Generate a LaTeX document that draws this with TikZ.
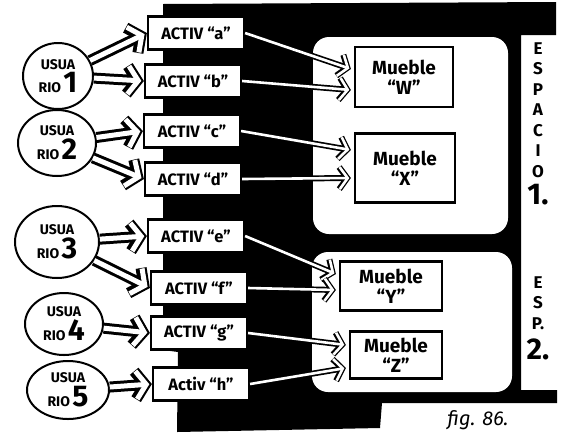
\documentclass[tikz,border=0pt]{standalone}
\usepackage{fontspec}
\setmainfont{Fira Sans}
\usetikzlibrary{arrows.meta,positioning,calc,shapes.geometric}
\tikzset{
  usr/.style={ellipse, draw=black, line width=2pt, fill=white, inner sep=0pt,
    minimum width=78pt, minimum height=66pt, align=center,
    font=\bfseries\fontsize{14}{15}\selectfont},
  actv/.style={draw=black, line width=2.2pt, fill=white, inner sep=2pt,
    minimum width=96pt, minimum height=33pt,
    font=\bfseries\fontsize{16.5}{17}\selectfont},
  mueb/.style={draw=black, line width=2.2pt, fill=white, inner sep=2pt,
    align=center, font=\bfseries\fontsize{19}{20}\selectfont},
  zona/.style={fill=white, rounded corners=16pt},
  rotulo/.style={align=center, font=\bfseries\fontsize{17}{20.5}\selectfont},
  % hollow arrows: a white stroke over a wider black one
  uflow/.style={draw=white, line width=5pt, shorten >=2.6pt,
    -{Straight Barb[length=10pt, width=28pt]},
    preaction={draw=black, line width=11pt, shorten >=0pt,
      -{Straight Barb[length=10pt, width=28pt]}}},
  mflow/.style={draw=white, line width=2.6pt, shorten >=1.6pt,
    -{Straight Barb[length=8pt, width=22pt]},
    preaction={draw=black, line width=6pt, shorten >=0pt,
      -{Straight Barb[length=8pt, width=22pt]}}}
}
\newcommand{\bignum}[1]{{\fontsize{30}{30}\selectfont #1}}

\begin{document}
\begin{tikzpicture}[x=1pt, y=-1pt]
  \useasboundingbox (0,0) rectangle (561,437);
  % black ground behind the activities and spaces
  \fill[black] (163,4) -- (556,2) -- (556,35) -- (521,35) -- (521,390)
    -- (557,390) -- (557,403) -- (382,403) -- (380,428) -- (177,432)
    -- (178,352) -- (163,350) -- cycle;
  \fill[zona] (313,37) rectangle (508,234);
  \fill[zona] (312,252) rectangle (512,392);

  % users
  \node[usr, minimum width=70pt] (u1) at (58,76) {USUA\\[2pt]RIO\,\bignum{1}};
  \node[usr] (u2) at (57,143) {USUA\\[2pt]RIO\,\bignum{2}};
  \node[usr, minimum width=84pt, minimum height=72pt] (u3) at (57,242) {USUA\\[2pt]RIO\,\bignum{3}};
  \node[usr, minimum height=62pt] (u4) at (64,324) {USUA\\[2pt]RIO\,\bignum{4}};
  \node[usr, minimum width=82pt, minimum height=58pt] (u5) at (68,390) {USUA\\[2pt]RIO\,\bignum{5}};

  % activities
  \node[actv] (aa) at (196,33) {ACTIV ``a''};
  \node[actv] (ab) at (193,81) {ACTIV ``b''};
  \node[actv] (ac) at (192,131) {ACTIV ``c''};
  \node[actv] (ad) at (193,179) {ACTIV ``d''};
  \node[actv] (ae) at (196,236) {ACTIV ``e''};
  \node[actv] (af) at (199,288) {ACTIV ``f''};
  \node[actv] (ag) at (199,333) {ACTIV ``g''};
  \node[actv] (ah) at (201,384) {Activ ``h''};

  % furniture
  \node[mueb, minimum width=98pt, minimum height=60pt] (mw) at (404,77) {Mueble\\``W''};
  \node[mueb, minimum width=100pt, minimum height=69pt] (mx) at (405,168) {Mueble\\``X''};
  \node[mueb, minimum width=102pt, minimum height=49pt] (my) at (391,286) {Mueble\\``Y''};
  \node[mueb, minimum width=92pt, minimum height=47pt] (mz) at (396,355) {Mueble\\``Z''};

  % space labels
  \node[rotulo] (esp1) at (538,124) {E\\S\\P\\A\\C\\I\\O\\[6pt]\bignum{1.}};
  \node[rotulo] (esp2) at (538,318) {E\\S\\P.\\[8pt]\bignum{2.}};
  \node[font=\itshape\fontsize{20}{20}\selectfont] (fig) at (478,420) {fig. 86.};

  \foreach \u/\a in {u1/aa,u1/ab,u2/ac,u2/ad,u3/ae,u3/af,u4/ag,u5/ah}
    \draw[uflow] (\u) -- (\a.west);

  \draw[mflow] (aa.east) -- ($(mw.west)+(-3,-8)$);
  \draw[mflow] (ab.east) -- ($(mw.west)+(-3,13)$);
  \draw[mflow] (ac.east) -- ($(mx.west)+(-3,-18)$);
  \draw[mflow] (ad.east) -- ($(mx.west)+(-3,10)$);
  \draw[mflow] (ae.east) -- ($(my.west)+(-3,-12)$);
  \draw[mflow] (af.east) -- ($(my.west)+(-3,4)$);
  \draw[mflow] (ag.east) -- ($(mz.west)+(-3,-10)$);
  \draw[mflow] (ah.east) -- ($(mz.west)+(-3,13)$);
\end{tikzpicture}
\end{document}
